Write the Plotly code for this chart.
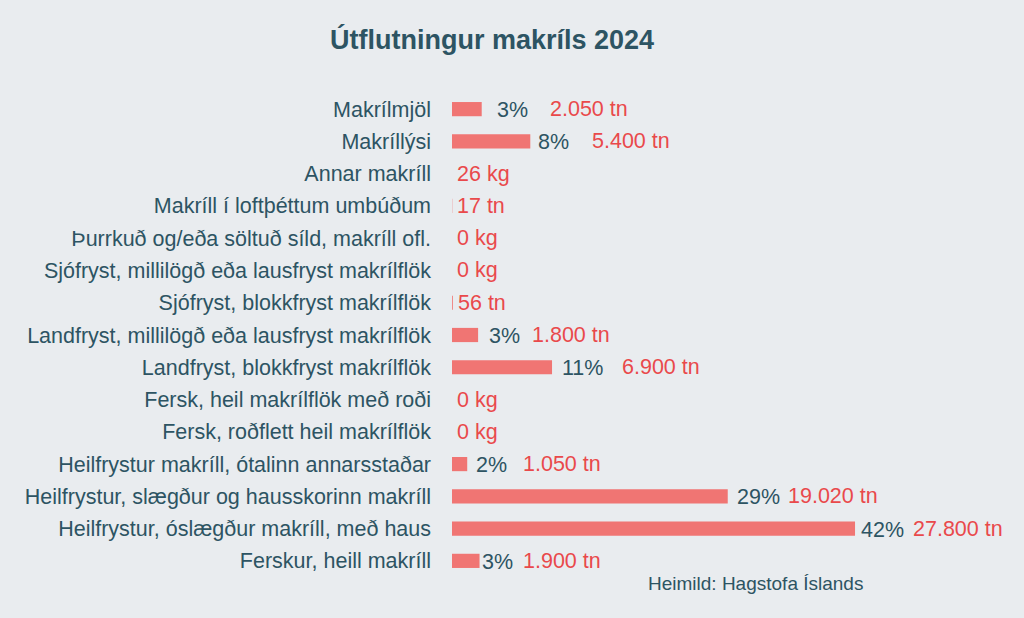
import plotly.graph_objects as go

categories = [
    "Makrílmjöl",
    "Makríllýsi",
    "Annar makríll",
    "Makríll í loftþéttum umbúðum",
    "Þurrkuð og/eða söltuð síld, makríll ofl.",
    "Sjófryst, millilögð eða lausfryst makrílflök",
    "Sjófryst, blokkfryst makrílflök",
    "Landfryst, millilögð eða lausfryst makrílflök",
    "Landfryst, blokkfryst makrílflök",
    "Fersk, heil makrílflök með roði",
    "Fersk, roðflett heil makrílflök",
    "Heilfrystur makríll, ótalinn annarsstaðar",
    "Heilfrystur, slægður og hausskorinn makríll",
    "Heilfrystur, óslægður makríll, með haus",
    "Ferskur, heill makríll",
]
tonnes = [2050, 5400, 0.026, 17, 0, 0, 56, 1800, 6900, 0, 0, 1050, 19020, 27800, 1900]
pct_labels = ["3%", "8%", "", "", "", "", "", "3%", "11%", "", "", "2%", "29%", "42%", "3%"]
value_labels = ["2.050 tn", "5.400 tn", "26 kg", "17 tn", "0 kg", "0 kg", "56 tn", "1.800 tn",
                "6.900 tn", "0 kg", "0 kg", "1.050 tn", "19.020 tn", "27.800 tn", "1.900 tn"]

# pixel offsets of labels from bar end (layout only)
pct_shift = [13, 6, 0, 0, 0, 0, 0, 9, 8, 0, 0, 7, 7, 4, 0]
val_shift = [66, 60, 3, 3, 3, 3, 3, 52, 68, 3, 3, 54, 58, 56, 41]

BG = "#e9ecef"
DARK = "#2d5463"
RED = "#e9494b"
BAR = "#f07573"
FONT = "Liberation Sans, Arial, sans-serif"
FS = 21.5

fig = go.Figure()
fig.add_trace(go.Bar(
    x=tonnes, y=categories, orientation="h",
    marker=dict(color=BAR, line=dict(width=0)),
    hoverinfo="skip",
))

for cat, v, p, lab, ps, vs in zip(categories, tonnes, pct_labels, value_labels, pct_shift, val_shift):
    if p:
        fig.add_annotation(x=v, y=cat, xref="x", yref="y", text=p, showarrow=False,
                           xanchor="left", yanchor="middle", xshift=ps, yshift=-1,
                           font=dict(family=FONT, size=FS, color=DARK))
    fig.add_annotation(x=v, y=cat, xref="x", yref="y", text=lab, showarrow=False,
                       xanchor="left", yanchor="middle", xshift=vs, yshift=0,
                       font=dict(family=FONT, size=FS, color=RED))

fig.add_annotation(x=(755 - 452) / 548, y=-(583 - 577) / 484, xref="paper", yref="paper",
                   text="Heimild: Hagstofa Íslands",
                   showarrow=False, xanchor="center", yanchor="middle",
                   font=dict(family=FONT, size=19, color=DARK))

fig.update_layout(
    width=1024, height=618,
    paper_bgcolor=BG, plot_bgcolor=BG,
    margin=dict(l=452, r=24, t=93, b=41),
    title=dict(text="<b>Útflutningur makríls 2024</b>", x=492/1024, xanchor="center",
               y=1-40/618, yanchor="middle",
               font=dict(family=FONT, size=27, color=DARK)),
    showlegend=False,
    bargap=0.56,
    hovermode=False,
    xaxis=dict(range=[0, 37800], visible=False, fixedrange=True),
    yaxis=dict(categoryorder="array", categoryarray=categories, autorange="reversed",
               showgrid=False, zeroline=False, showline=False, ticks="", fixedrange=True,
               ticklabelstandoff=20,
               tickfont=dict(family=FONT, size=FS, color=DARK)),
)

fig.write_html("out.html", config={"displayModeBar": False, "staticPlot": True},
               post_script="document.body.style.margin='0';document.body.style.background='%s';" % BG)
